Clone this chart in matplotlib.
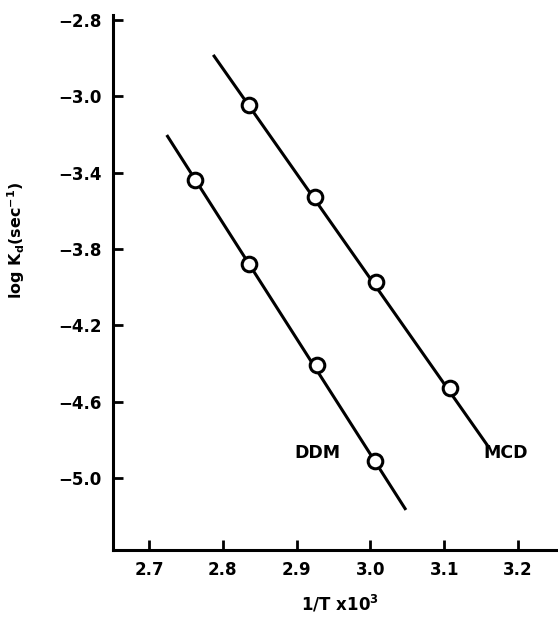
import matplotlib
matplotlib.use("Agg")
import matplotlib.pyplot as plt

# data
mcd_x = [2.835, 2.925, 3.007, 3.108]
mcd_y = [-3.045, -3.528, -3.973, -4.529]
mcd_line_x = [2.787, 3.159]
mcd_line_y = [-2.783, -4.833]

ddm_x = [2.762, 2.835, 2.928, 3.006]
ddm_y = [-3.439, -3.879, -4.408, -4.911]
ddm_line_x = [2.724, 3.048]
ddm_line_y = [-3.203, -5.168]

x_ticks = [2.7, 2.8, 2.9, 3.0, 3.1, 3.2]
x_tick_labels = ["2.7", "2.8", "2.9", "3.0", "3.1", "3.2"]
y_ticks = [-2.6, -3.0, -3.4, -3.8, -4.2, -4.6, -5.0]
y_tick_labels = ["\u22122.8", "\u22123.0", "\u22123.4", "\u22123.8",
                 "\u22124.2", "\u22124.6", "\u22125.0"]

plt.rcParams["font.family"] = "DejaVu Sans"
plt.rcParams["font.weight"] = "bold"
plt.rcParams["mathtext.default"] = "bf"

W, H = 558, 618
fig = plt.figure(figsize=(W / 100, H / 100), dpi=100)
ax = fig.add_axes([113 / W, 1 - 550 / H, (W - 113) / W, (550 - 15) / H])

for lx, ly, px, py in [(mcd_line_x, mcd_line_y, mcd_x, mcd_y),
                       (ddm_line_x, ddm_line_y, ddm_x, ddm_y)]:
    ax.plot(lx, ly, color="black", lw=2.2, solid_capstyle="butt", zorder=2)
    ax.plot(px, py, "o", ms=10.5, mfc="white", mec="black", mew=2.2, zorder=3)

ax.set_xlim(2.6512, 3.254)
ax.set_ylim(-5.378, -2.574)
ax.set_xticks(x_ticks)
ax.set_xticklabels(x_tick_labels)
ax.set_yticks(y_ticks)
ax.set_yticklabels(y_tick_labels)

for side in ["top", "right"]:
    ax.spines[side].set_visible(False)
for side in ["left", "bottom"]:
    ax.spines[side].set_linewidth(2.2)
ax.tick_params(direction="in", length=7, width=2.0, labelsize=12, pad=8)
for lab in ax.get_xticklabels() + ax.get_yticklabels():
    lab.set_fontweight("bold")

ax.text(2.928, -4.87, "DDM", ha="center", va="center", fontsize=12.5, fontweight="bold")
ax.text(3.183, -4.87, "MCD", ha="center", va="center", fontsize=12.5, fontweight="bold")

fig.text(16 / W, 1 - 240 / H, r"log K$_d$(sec$^{-1}$)", rotation=90,
         ha="center", va="center", fontsize=11.5, fontweight="bold")
fig.text(340 / W, 1 - 604 / H, r"1/T x10$^3$", ha="center", va="center",
         fontsize=12, fontweight="bold")

fig.savefig("out.png", dpi=100)
